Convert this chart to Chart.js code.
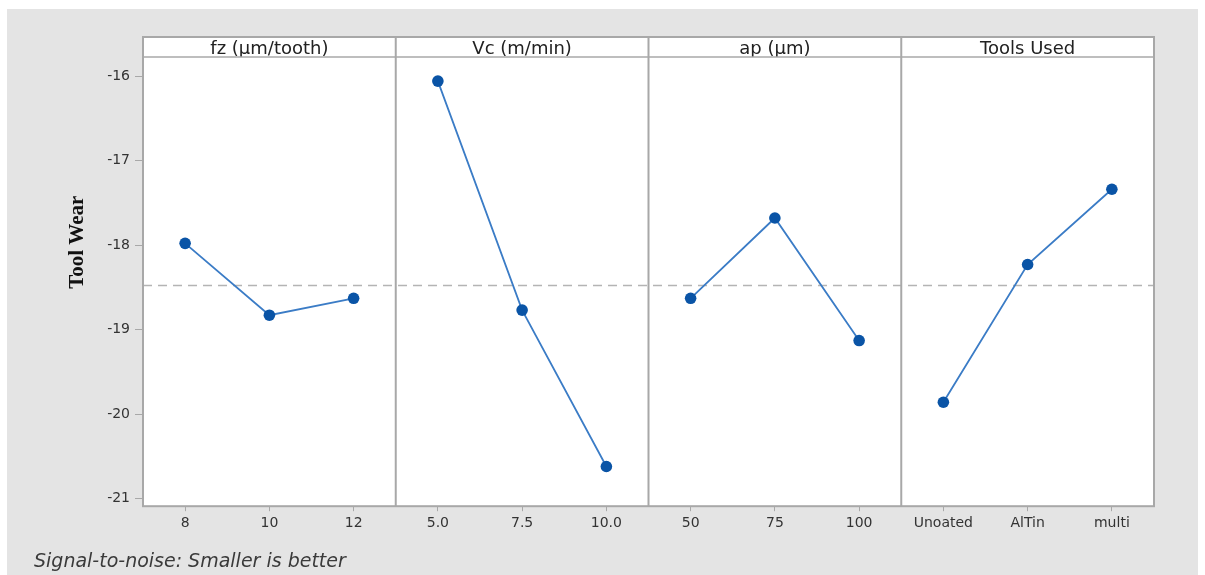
<!DOCTYPE html>
<html><head><meta charset="utf-8">
<script src="https://cdn.jsdelivr.net/npm/chart.js@4.4.1/dist/chart.umd.min.js"></script>
<style>html,body{margin:0;padding:0;background:#fff;overflow:hidden;}</style>
</head><body>
<canvas id="c" width="1205" height="575"></canvas>
<script>
const panelTitles = ['fz (µm/tooth)', 'Vc (m/min)', 'ap (µm)', 'Tools Used'];
const fzLevels = ['8', '10', '12'];
const vcLevels = ['5.0', '7.5', '10.0'];
const apLevels = ['50', '75', '100'];
const toolLevels = ['Unoated', 'AlTin', 'multi'];
const fzSN = [-17.98, -18.83, -18.63];
const vcSN = [-16.06, -18.77, -20.62];
const apSN = [-18.63, -17.68, -19.13];
const toolSN = [-19.86, -18.23, -17.34];
const meanSN = -18.48;
const yTicks = [-16, -17, -18, -19, -20, -21];
const yTitle = 'Tool Wear';
const footNote = 'Signal-to-noise: Smaller is better';

const categories = [...fzLevels, ...vcLevels, ...apLevels, ...toolLevels];
const panelValues = [fzSN, vcSN, apSN, toolSN];
const datasets = panelValues.map((vals, p) => ({
  label: panelTitles[p],
  data: categories.map((_, i) => Math.floor(i / 3) === p ? vals[i % 3] : null),
  borderColor: '#3b7cc6',
  borderWidth: 1.8,
  backgroundColor: '#0a54a6',
  pointBackgroundColor: '#0a54a6',
  pointBorderWidth: 0,
  pointRadius: 5.8,
  spanGaps: false,
  tension: 0
}));

const FRAME = '#a8a8a8';
const HEADER_H = 20;
const tickFont = {family: 'DejaVu Sans', size: 14};

const decor = {
  id: 'decor',
  beforeDraw(chart) {
    const {ctx, chartArea: a} = chart;
    ctx.save();
    ctx.fillStyle = '#ffffff';
    ctx.fillRect(0, 0, chart.width, chart.height);
    ctx.fillStyle = '#e4e4e4';
    ctx.fillRect(7, 9, 1191, chart.height - 9);
    ctx.fillStyle = '#ffffff';
    ctx.fillRect(a.left, a.top - HEADER_H, a.right - a.left, a.bottom - a.top + HEADER_H);
    ctx.restore();
  },
  beforeDatasetsDraw(chart) {
    const {ctx, chartArea: a, scales} = chart;
    const y = scales.y.getPixelForValue(meanSN);
    ctx.save();
    ctx.strokeStyle = '#b4b4b4';
    ctx.lineWidth = 1.5;
    ctx.setLineDash([9, 6]);
    ctx.beginPath();
    ctx.moveTo(a.left, y);
    ctx.lineTo(a.right, y);
    ctx.stroke();
    ctx.restore();
  },
  afterDraw(chart) {
    const {ctx, chartArea: a, scales} = chart;
    ctx.save();
    ctx.strokeStyle = FRAME;
    ctx.lineWidth = 2;
    ctx.strokeRect(a.left, a.top - HEADER_H, a.right - a.left, a.bottom - a.top + HEADER_H);
    ctx.lineWidth = 1.5;
    ctx.beginPath();
    ctx.moveTo(a.left, a.top);
    ctx.lineTo(a.right, a.top);
    ctx.stroke();
    ctx.lineWidth = 2;
    for (let p = 1; p < panelTitles.length; p++) {
      const x = scales.x.getPixelForValue(p * 3 - 0.5);
      ctx.beginPath();
      ctx.moveTo(x, a.top - HEADER_H);
      ctx.lineTo(x, a.bottom);
      ctx.stroke();
    }
    ctx.restore();
  }
};

new Chart(document.getElementById('c'), {
  type: 'line',
  data: {labels: categories, datasets},
  options: {
    responsive: false,
    animation: false,
    events: [],
    layout: {padding: {left: 34, right: 51, top: 37, bottom: 0}},
    plugins: {
      legend: {display: false},
      tooltip: {enabled: false},
      title: {
        display: true,
        text: footNote,
        position: 'bottom',
        align: 'start',
        color: '#3a3a3a',
        font: {family: 'DejaVu Sans', size: 19, style: 'italic', weight: 'normal', lineHeight: 1.2},
        padding: {top: 4, bottom: 2}
      }
    },
    scales: {
      x: {
        type: 'category',
        position: 'bottom',
        offset: true,
        grid: {display: true, drawOnChartArea: false, drawTicks: true, tickLength: 5, color: FRAME, offset: false},
        border: {display: false},
        ticks: {color: '#333', font: tickFont, padding: 4, autoSkip: false, maxRotation: 0},
        afterFit(s) { s.height = 40; }
      },
      x2: {
        type: 'category',
        position: 'top',
        labels: panelTitles,
        offset: true,
        grid: {display: false, drawTicks: false},
        border: {display: false},
        ticks: {color: '#222', font: {family: 'DejaVu Sans', size: 18, lineHeight: 1.1}, padding: -2, autoSkip: false, maxRotation: 0},
        afterFit(s) { s.height = HEADER_H; }
      },
      y: {
        type: 'linear',
        min: -21.09,
        max: -15.775,
        afterBuildTicks(s) { s.ticks = yTicks.map(v => ({value: v})); },
        grid: {display: true, drawOnChartArea: false, drawTicks: true, tickLength: 8, color: FRAME},
        border: {display: false},
        ticks: {color: '#333', font: tickFont, padding: 5},
        title: {
          display: true,
          text: '               ' + yTitle,
          color: '#111',
          font: {family: 'Liberation Serif', size: 21, weight: 'bold', lineHeight: 1.2},
          padding: {top: 31, bottom: 0}
        },
        afterFit(s) { s.width = 109; }
      }
    }
  },
  plugins: [decor]
});
</script>
</body></html>
